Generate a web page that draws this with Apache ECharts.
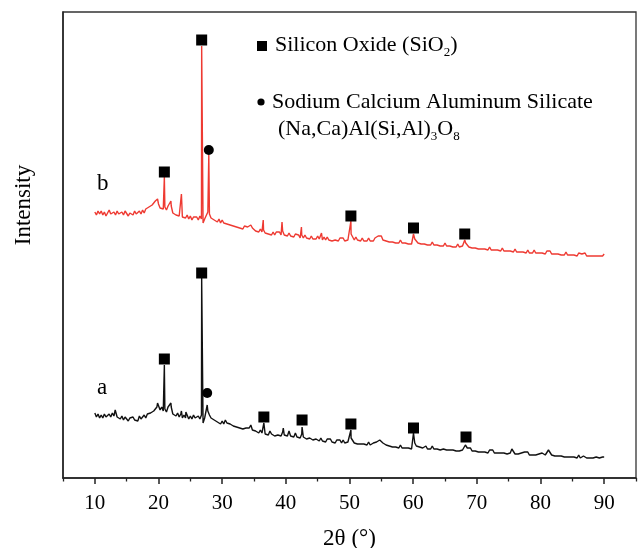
<!DOCTYPE html>
<html><head><meta charset="utf-8">
<script src="https://cdn.jsdelivr.net/npm/echarts@6/dist/echarts.min.js"></script>
<style>html,body{margin:0;padding:0;background:#fff}#c{width:638px;height:548px}</style>
</head><body><div id="c"></div>
<script>
// 2-theta sampling grid of the baselines (degrees)
const thetaStart = 10, thetaStep = 0.25;

// Curve a (black), intensity in arbitrary units, one row per 5 degrees (x.00, x.25, x.50, x.75 each)
const baseA = [
 65,61,64,60, 63,60,64,61, 60,64,61,65, 62,66,61,63, 59,62,58,61,
 61,57,60,58, 61,58,60,57, 62,59,61,63, 60,64,62,65, 63,67,66,71,
 73,68,71,67, 69,66,71,70, 71,64,66,62, 65,61,64,60, 63,60,64,59,
 62,59,63,60, 58,62,59,63, 55,60,62,67, 63,60,62,58, 60,56,58,54,
 57,54,58,55, 57,54,56,52, 54,51,53,50, 52,49,51,50, 52,50,53,48,
 50,47,48,45, 48,45,47,44, 46,43,47,44, 45,42,44,43, 45,42,46,43,
 44,42,47,42, 43,41,45,41, 43,40,44,41, 42,39,41,40, 41,38,40,39,
 39,37,40,37, 39,36,39,37, 39,36,38,35, 38,36,38,35, 38,35,37,36,
 35,40,38,35, 37,34,36,34, 36,34,35,33, 36,33,35,35, 34,36,36,38,
 38,35,36,33, 34,32,34,31, 33,31,33,30, 33,30,32,30, 32,30,31,29,
 30,35,32,33, 31,33,30,32, 32,29,31,29, 32,29,31,29, 31,28,30,29,
 31,28,30,28, 30,28,29,27, 29,27,29,28, 28,31,30,28, 30,27,29,27,
 29,26,28,26, 28,26,27,25, 28,26,28,25, 27,25,27,25, 27,25,26,24,
 26,25,29,27, 24,26,24,23, 25,23,26,25, 26,23,25,23, 25,23,25,24,
 23,25,24,23, 25,28,26,23, 25,22,24,22, 24,22,24,21, 23,21,23,21,
 23,21,22,20, 23,20,22,22, 23,20,22,20, 22,20,22,21, 22,20,21,21,
 21
];
// sharp reflections of curve a: [2theta, intensity]
const peaksA = [
 [13.2,68],[19.85,75],[20.92,113],[21.95,75],[23.6,67],[24.3,66],[26.78,200],
 [27.65,73],[27.88,69],[36.55,55],[39.6,50],[40.55,47],[41.55,46],[42.55,51],
 [50.22,48],[60.05,45],[68.2,33]
];

// Curve b (red)
const baseB = [
 266,263,267,264, 267,263,266,262, 265,268,264,262, 266,263,267,264, 262,266,263,267,
 266,262,265,263, 263,267,264,262, 267,264,268,265, 269,267,271,270, 273,271,277,275,
 274,270,272,269, 271,268,272,271, 272,265,267,263, 265,262,264,261, 263,260,263,259,
 262,258,261,259, 261,258,262,259, 255,259,261,266, 264,260,262,258, 260,256,259,255,
 258,255,257,254, 256,253,255,252, 254,251,253,250, 252,249,252,250, 251,249,253,250,
 250,247,249,246, 249,246,248,245, 247,244,246,243, 246,243,246,244, 246,243,247,243,
 245,242,245,242, 244,241,244,242, 243,240,243,240, 243,240,242,239, 242,239,241,239,
 242,239,241,238, 241,238,241,238, 240,237,239,238, 240,237,240,238, 240,237,239,238,
 239,244,241,238, 241,238,240,237, 240,237,239,237, 240,237,239,237, 240,239,242,241,
 242,238,239,237, 239,236,238,236, 238,235,237,235, 238,235,237,235, 237,234,236,234,
 235,239,238,235, 237,234,236,234, 236,233,235,233, 236,233,235,233, 235,232,234,232,
 235,232,234,232, 234,231,233,231, 234,231,233,232, 232,235,234,231, 233,230,232,230,
 232,229,231,229, 231,229,231,228, 231,228,230,228, 230,228,230,227, 230,227,229,227,
 229,227,229,226, 229,226,228,226, 228,226,228,225, 228,225,227,225, 228,225,227,225,
 227,225,227,224, 227,225,227,224, 226,224,226,224, 226,223,225,223, 226,223,225,223,
 225,223,225,222, 225,223,224,223, 225,222,224,222, 224,222,224,222, 224,222,224,222,
 224
];
const peaksB = [
 [19.85,279],[20.92,301],[21.95,277],[23.6,284],[26.78,432],[27.9,323],
 [36.45,258],[39.4,256],[42.45,251],[45.6,245],[50.22,257],[60.05,244],[68.1,238]
];

// phase markers [2theta, intensity]
const squareMarks = [
 [20.92,119],[26.78,205],[36.55,61],[42.55,58],[50.22,54],[60.05,50],[68.3,41],
 [20.92,306],[26.78,438],[50.22,262],[60.05,250],[68.1,244]
];
const circleMarks = [[27.65,85],[27.9,328]];

const xTickLabels = [10,20,30,40,50,60,70,80,90];
const xMinorTicks = [5,15,25,35,45,55,65,75,85,95];
const curveLabels = ['a','b'];
const yTitle = 'Intensity';
const legendTexts = [
  '{n|Silicon Oxide (SiO}{s|2}{n|)}',
  '{n|Sodium Calcium Aluminum Silicate}',
  '{n|(Na,Ca)Al(Si,Al)}{s|3}{n|O}{s|8}'
];

function buildSeries(base, peaks) {
  const pts = base.map((v, i) => [thetaStart + i * thetaStep, v]);
  return pts.concat(peaks).sort((p, q) => p[0] - q[0]);
}

const FF = '"Liberation Serif","Times New Roman",serif';
const chart = echarts.init(document.getElementById('c'), null, {renderer: 'canvas'});
const richStyle = {
  n: {fontSize: 22, fontFamily: FF, color: '#000', lineHeight: 28},
  s: {fontSize: 13, fontFamily: FF, color: '#000', lineHeight: 7, verticalAlign: 'bottom'}
};
chart.setOption({
  animation: false,
  backgroundColor: '#fff',
  grid: {left: 63, right: 2, top: 12, bottom: 70, show: true, borderColor: '#333', borderWidth: 1.3,
         backgroundColor: 'transparent', containLabel: false, outerBoundsMode: 'none'},
  xAxis: [{
    type: 'value', min: 5, max: 95, position: 'bottom',
    axisLine: {show: true, onZero: false, lineStyle: {color: '#222', width: 1.5}},
    axisTick: {show: true, length: 6, customValues: xTickLabels, lineStyle: {color: '#222', width: 1.5}},
    axisLabel: {customValues: xTickLabels, fontFamily: FF, fontSize: 21, color: '#000', margin: 15},
    splitLine: {show: false},
    name: '2θ (°)', nameLocation: 'middle', nameGap: 49,
    nameTextStyle: {fontFamily: FF, fontSize: 23, color: '#000'}
  }, {
    type: 'value', min: 5, max: 95, position: 'bottom',
    axisLine: {show: false},
    axisTick: {show: true, length: 3.5, customValues: xMinorTicks, lineStyle: {color: '#222', width: 1.3}},
    axisLabel: {show: false}, splitLine: {show: false}
  }],
  yAxis: {
    type: 'value', min: 0, max: 466,
    axisLine: {show: true, lineStyle: {color: '#222', width: 1.5}},
    axisTick: {show: false}, axisLabel: {show: false}, splitLine: {show: false}
  },
  series: [
    {name: 'a', type: 'line', data: buildSeries(baseA, peaksA), showSymbol: false, symbol: 'none',
     lineStyle: {color: '#111', width: 1.4}, z: 2},
    {name: 'b', type: 'line', data: buildSeries(baseB, peaksB), showSymbol: false, symbol: 'none',
     lineStyle: {color: '#ee3a32', width: 1.4}, z: 2},
    {name: 'SiO2', type: 'scatter', data: squareMarks, symbol: 'rect', symbolSize: 11,
     itemStyle: {color: '#000', opacity: 1}, z: 3},
    {name: 'NaCaAl', type: 'scatter', data: circleMarks, symbol: 'circle', symbolSize: 10,
     itemStyle: {color: '#000', opacity: 1}, z: 3}
  ],
  graphic: [
    {type: 'rect', shape: {x: 257, y: 41, width: 10, height: 10}, style: {fill: '#000'}},
    {type: 'text', left: 275, top: 34, style: {text: legendTexts[0], rich: richStyle}},
    {type: 'circle', shape: {cx: 261, cy: 102, r: 3.6}, style: {fill: '#000'}},
    {type: 'text', left: 272, top: 91, style: {text: legendTexts[1], rich: richStyle}},
    {type: 'text', left: 278, top: 118, style: {text: legendTexts[2], rich: richStyle}},
    {type: 'text', x: 24, y: 205, rotation: Math.PI / 2,
     style: {text: yTitle, font: '23px ' + FF, fill: '#000', align: 'center', verticalAlign: 'middle'}},
    {type: 'text', left: 97, top: 172, style: {text: curveLabels[1], font: '23px ' + FF, fill: '#000'}},
    {type: 'text', left: 97, top: 376, style: {text: curveLabels[0], font: '23px ' + FF, fill: '#000'}}
  ]
});
</script>
</body></html>
